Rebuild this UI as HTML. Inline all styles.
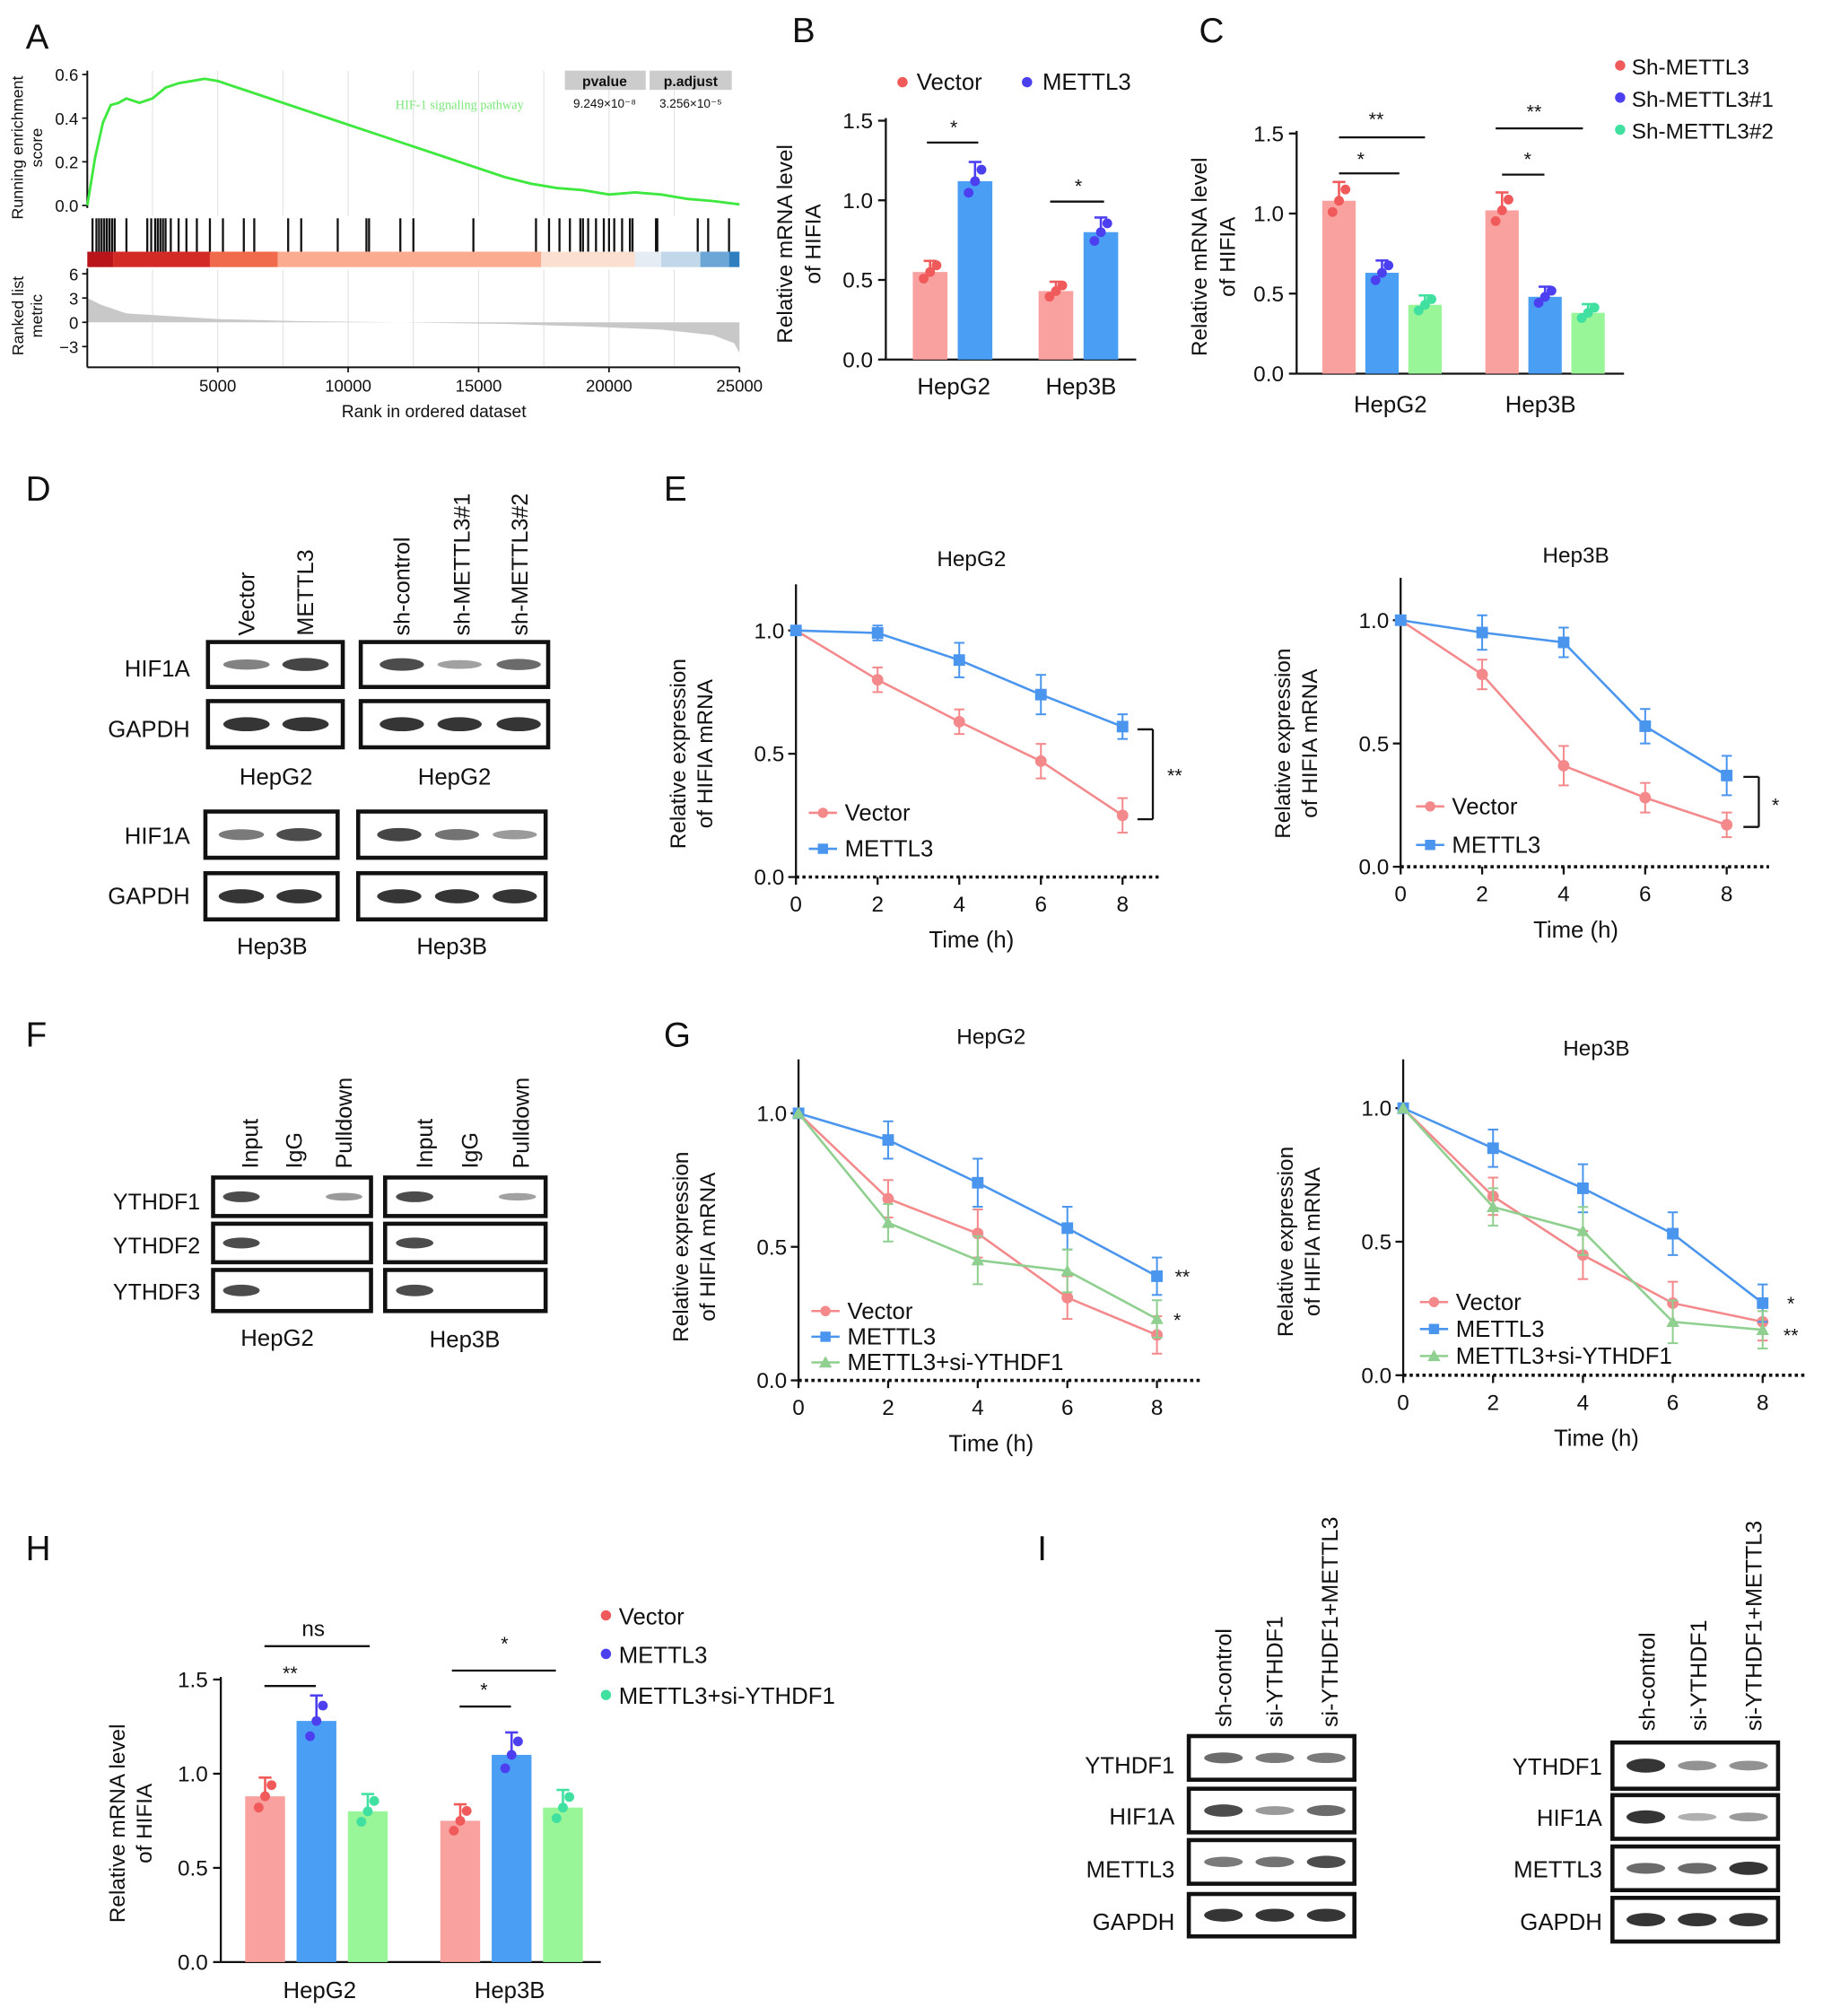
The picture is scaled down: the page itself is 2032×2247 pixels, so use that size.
<!DOCTYPE html>
<html><head><meta charset="utf-8">
<style>
html,body{margin:0;padding:0;background:#fff;}
svg{display:block;font-family:"Liberation Sans",Arial,sans-serif;}
</style></head>
<body>
<svg id="fig" width="2032" height="2247" viewBox="0 0 1420 1570" preserveAspectRatio="none" xmlns="http://www.w3.org/2000/svg"></svg>
<script>
// ---------- DATA ----------
const gseaRanks = [0,300,600,900,1200,1500,2000,2500,3000,3500,4000,4500,5000,6000,7000,8000,9000,10000,11000,12000,13000,14000,15000,16000,17000,18000,19000,20000,21000,22000,23000,24000,25000];
const gseaES = [0,0.22,0.38,0.46,0.47,0.49,0.47,0.49,0.54,0.56,0.57,0.58,0.57,0.53,0.49,0.45,0.41,0.37,0.33,0.29,0.25,0.21,0.17,0.13,0.10,0.08,0.07,0.05,0.06,0.05,0.03,0.02,0.005];
const hitRanks = [200,350,450,550,650,750,850,950,1050,1500,2300,2450,2600,2700,2800,2900,3000,3200,3500,3800,4200,4700,5200,6000,6400,7700,8200,9600,10700,10800,12000,12500,14800,17200,17700,18100,18500,18900,19000,19200,19500,19800,20000,20200,20500,20800,20900,21800,21850,23400,23800,24600];
const gseaXTicks = [5000,10000,15000,20000,25000];
const metricRanks = [0,500,1500,3000,5000,8000,12000,16000,19000,22000,24000,24800,25000];
const metricVals = [3,2.2,1.1,0.8,0.4,0.15,0,-0.2,-0.5,-0.9,-1.6,-2.6,-3.8];

const bCats = ["HepG2","Hep3B"];
const bVector = [0.55,0.43];
const bMettl3 = [1.12,0.80];
const bTicks = [0,0.5,1.0,1.5];
const cCats = ["HepG2","Hep3B"];
const cSh = [1.08,1.02];
const cSh1 = [0.63,0.48];
const cSh2 = [0.43,0.38];
const cTicks = [0,0.5,1.0,1.5];
const timeH = [0,2,4,6,8];
const eTicks = [0,0.5,1.0];
const eHepG2Vector = [1,0.80,0.63,0.47,0.25];
const eHepG2Vec_err = [0,0.05,0.05,0.07,0.07];
const eHepG2Mettl3 = [1,0.99,0.88,0.74,0.61];
const eHepG2Met_err = [0,0.03,0.07,0.08,0.05];
const eHep3BVector = [1,0.78,0.41,0.28,0.17];
const eHep3BVec_err = [0,0.06,0.08,0.06,0.05];
const eHep3BMettl3 = [1,0.95,0.91,0.57,0.37];
const eHep3BMet_err = [0,0.07,0.06,0.07,0.08];
const gHepG2Vector = [1,0.68,0.55,0.31,0.17];
const gHepG2Mettl3 = [1,0.90,0.74,0.57,0.39];
const gHepG2Si = [1,0.59,0.45,0.41,0.23];
const gHep3BVector = [1,0.67,0.45,0.27,0.20];
const gHep3BMettl3 = [1,0.85,0.70,0.53,0.27];
const gHep3BSi = [1,0.63,0.54,0.20,0.17];
const gErr = [0,0.07,0.09,0.08,0.07];
const hCats = ["HepG2","Hep3B"];
const hVector = [0.88,0.75];
const hMettl3 = [1.28,1.10];
const hSi = [0.80,0.82];
const hTicks = [0,0.5,1.0,1.5];

// ---------- HELPERS ----------
const NS="http://www.w3.org/2000/svg";
const svg=document.getElementById('fig');
function mk(tag,attrs,name){
  const e=document.createElementNS(NS,tag);
  for(const k in attrs) e.setAttribute(k,attrs[k]);
  
  
  svg.appendChild(e);return e;
}
function txt(x,y,s,size,name,anchor,rot,extra){
  const a={x:x,y:y,'font-size':size,'text-anchor':anchor||'middle',fill:'#111'};
  if(rot) a.transform='rotate('+rot+' '+x+' '+y+')';
  if(extra) for(const k in extra) a[k]=extra[k];
  const t=mk('text',a,name);t.textContent=s;return t;
}
function line(x1,y1,x2,y2,name,w,col,extra){
  const a={x1:x1,y1:y1,x2:x2,y2:y2,stroke:col||'#111','stroke-width':w||1.6};
  if(extra) for(const k in extra) a[k]=extra[k];
  return mk('line',a,name);
}
const RED='#f8a19f',BLUE='#4a9ff5',GREEN='#98f598';
const DRED='#f05a5a',DBLUE='#4b3ff0',DGREEN='#3fe0a0';
const LRED='#f4898c',LBLUE='#4a95ee',LGREEN='#8fcf8f';

[['A',20,38],['B',617,33],['C',934,33],['D',20,390],['E',517,390],['F',20,815],['G',517,815],['H',20,1215],['I',808,1215]].forEach(p=>txt(p[1],p[2],p[0],27,'panel-label-'+p[0].toLowerCase(),'start'));

// ---------- PANEL A ----------
(function(){
  const x=r=>68+r/25000*508;
  const yES=v=>160-v/0.6*102;
  const yM=v=>251-v*6.3;
  [2500,5000,7500,10000,12500,15000,17500,20000,22500].forEach(r=>{
    line(x(r),55,x(r),168,'gsea-grid',0.8,'#e3e3e3');
    line(x(r),210,x(r),285,'gsea-grid',0.8,'#e3e3e3');
  });
  line(68,55,68,162,'gsea-es-axis',1.4);
  [0,0.2,0.4,0.6].forEach(v=>{line(64,yES(v),68,yES(v),'es-tick',1.2);txt(61,yES(v)+5,v.toFixed(1),13,'es-tick-label','end');});
  txt(18,115,'Running enrichment',12.5,'es-axis-title','middle',-90);
  txt(33,115,'score',12.5,'es-axis-title','middle',-90);
  let d='';gseaRanks.forEach((r,i)=>{d+=(i?'L':'M')+x(r)+' '+yES(gseaES[i]);});
  mk('path',{d:d,fill:'none',stroke:'#3ee83e','stroke-width':2},'es-curve');
  txt(358,85,'HIF-1 signaling pathway',10,'pathway-label','middle',0,{fill:'#7be87b','font-family':'Liberation Serif'});
  mk('rect',{x:440,y:55,width:63,height:15,fill:'#ccc'},'pvalue-header');
  mk('rect',{x:506,y:55,width:64,height:15,fill:'#ccc'},'padjust-header');
  txt(471,67,'pvalue',11,'pvalue-header-text','middle',0,{'font-weight':'bold'});
  txt(538,67,'p.adjust',11,'padjust-header-text','middle',0,{'font-weight':'bold'});
  txt(471,84,'9.249×10⁻⁸',9.5,'pvalue-value');
  txt(538,84,'3.256×10⁻⁵',9.5,'padjust-value');
  hitRanks.forEach(r=>line(x(r),170,x(r),196,'hit-tick',1.6,'#111'));
  const bands=[[0,1000,'#b81419'],[1000,4700,'#d42a25'],[4700,7300,'#f06a4c'],[7300,17400,'#fbab90'],[17400,21000,'#fbe0d2'],[21000,22000,'#e6ecf4'],[22000,23500,'#c2d7ea'],[23500,24600,'#6ba6d6'],[24600,25000,'#2f7fc0']];
  bands.forEach(b=>mk('rect',{x:x(b[0]),y:196,width:x(b[1])-x(b[0]),height:12,fill:b[2]},'rank-color-band'));
  let m='M'+x(0)+' '+yM(0);metricRanks.forEach((r,i)=>{m+='L'+x(r)+' '+yM(metricVals[i]);});m+='L'+x(25000)+' '+yM(0)+'Z';
  mk('path',{d:m,fill:'#c8c8c8'},'ranked-metric-area');
  line(68,209,68,286,'metric-axis',1.4);line(68,286,576,286,'x-axis',1.4);
  [6,3,0,-3].forEach(v=>{line(64,yM(v),68,yM(v),'metric-tick',1.2);txt(61,yM(v)+5,String(v).replace('-','−'),13,'metric-tick-label','end');});
  txt(18,246,'Ranked list',12.5,'metric-axis-title','middle',-90);
  txt(33,246,'metric',12.5,'metric-axis-title','middle',-90);
  gseaXTicks.forEach(r=>{line(x(r),286,x(r),290,'x-tick',1.2);txt(x(r),305,String(r),13,'x-tick-label');});
  txt(338,325,'Rank in ordered dataset',13.5,'x-axis-title');
})();

function barChart(o){
  const y=v=>o.y0-v*o.unit;
  line(o.ax,o.y0,o.ax,y(o.ticks[o.ticks.length-1])-2,o.p+'-y-axis',1.6);
  line(o.ax,o.y0,o.axEnd,o.y0,o.p+'-x-axis',1.6);
  o.ticks.forEach(v=>{line(o.ax-6,y(v),o.ax,y(v),o.p+'-y-tick',1.6);txt(o.ax-10,y(v)+6,v.toFixed(1),o.fs||17,o.p+'-y-tick-label','end');});
  o.series.forEach((s,si)=>{
    s.vals.forEach((v,ci)=>{
      const bx=o.groupX[ci]+si*o.step;
      mk('rect',{x:bx,y:y(v),width:o.bw,height:o.y0-y(v),fill:s.col},o.p+'-bar-'+o.cats[ci].toLowerCase()+'-'+si);
      const cx=bx+o.bw/2;
      const sd=v*0.09+0.02;
      line(cx,y(v+sd),cx,y(v),o.p+'-error-bar',1.8,s.dot);
      line(cx-5,y(v+sd),cx+5,y(v+sd),o.p+'-error-cap',1.8,s.dot);
      [-5,0,5].forEach((dx,k)=>mk('circle',{cx:cx+dx,cy:y(v+(k-1)*sd*0.6),r:3.8,fill:s.dot},o.p+'-data-point'));
    });
  });
  o.cats.forEach((c,ci)=>txt(o.labelX[ci],o.labY,c,o.lfs||18,o.p+'-category-label'));
}

// ---------- PANEL B ----------
barChart({p:'b',ax:690,axEnd:885,y0:280,unit:124,ticks:bTicks,cats:bCats,groupX:[711,809],step:35,bw:27,labelX:[743,842],labY:307,
  series:[{vals:bVector,col:RED,dot:DRED},{vals:bMettl3,col:BLUE,dot:DBLUE}]});
txt(617,190,'Relative mRNA level',17,'b-y-axis-title','middle',-90);
txt(639,190,'of HIFIA',17,'b-y-axis-title','middle',-90);
mk('circle',{cx:703,cy:64,r:4,fill:DRED},'b-legend-vector-marker');txt(714,70,'Vector',18,'b-legend-vector','start');
mk('circle',{cx:800,cy:64,r:4,fill:DBLUE},'b-legend-mettl3-marker');txt(812,70,'METTL3',18,'b-legend-mettl3','start');
line(722,111,762,111,'b-sig-line',1.6);txt(743,104,'*',15,'b-sig-star');
line(818,157,860,157,'b-sig-line',1.6);txt(840,150,'*',15,'b-sig-star');

// ---------- PANEL C ----------
barChart({p:'c',ax:1010,axEnd:1265,y0:291,unit:124.7,ticks:cTicks,cats:cCats,groupX:[1030,1157],step:33.5,bw:26,labelX:[1083,1200],labY:321,
  series:[{vals:cSh,col:RED,dot:DRED},{vals:cSh1,col:BLUE,dot:DBLUE},{vals:cSh2,col:GREEN,dot:DGREEN}]});
txt(940,200,'Relative mRNA level',17,'c-y-axis-title','middle',-90);
txt(962,200,'of HIFIA',17,'c-y-axis-title','middle',-90);
[['Sh-METTL3',DRED,57],['Sh-METTL3#1',DBLUE,82],['Sh-METTL3#2',DGREEN,107]].forEach(l=>{
  mk('circle',{cx:1262,cy:l[2]-6,r:4,fill:l[1]},'c-legend-marker');txt(1271,l[2]+1,l[0],17,'c-legend-entry','start');});
line(1043,107,1110,107,'c-sig-line',1.6);txt(1072,98,'**',15,'c-sig-star');
line(1043,135,1090,135,'c-sig-line',1.6);txt(1060,129,'*',15,'c-sig-star');
line(1165,100,1233,100,'c-sig-line',1.6);txt(1195,92,'**',15,'c-sig-star');
line(1170,136,1203,136,'c-sig-line',1.6);txt(1190,129,'*',15,'c-sig-star');

// ---------- BLOTS ----------
function blot(x,y,w,h,ints,name,lanes){
  mk('rect',{x:x,y:y,width:w,height:h,fill:'#fff',stroke:'#111','stroke-width':3.2},name+'-box');
  const n=ints.length;const lw=(w-10)/n;
  ints.forEach((v,i)=>{
    if(v<=0)return;
    const cx=x+5+lw*(i+0.5);
    const lx=lanes?lanes[i]:cx;
    mk('ellipse',{cx:lx,cy:y+h/2,rx:lw*0.38,ry:Math.max(2.5,h*0.13*(0.6+v*0.6)),fill:'#222','fill-opacity':0.25+0.7*v},name+'-band');
  });
}
txt(148,527,'HIF1A',18,'d-label-hif1a','end');txt(148,574,'GAPDH',18,'d-label-gapdh','end');
txt(148,657,'HIF1A',18,'d-label-hif1a-2','end');txt(148,704,'GAPDH',18,'d-label-gapdh-2','end');
blot(162,500,105,35,[0.45,0.85],'d-hepg2-hif1a',[192,238]);
blot(162,546,105,36,[0.95,0.95],'d-hepg2-gapdh',[192,238]);
blot(281,500,146,35,[0.8,0.25,0.6],'d-hepg2-sh-hif1a',[313,358,404]);
blot(281,546,146,36,[0.95,0.95,0.95],'d-hepg2-sh-gapdh',[313,358,404]);
blot(160,632,103,36,[0.5,0.8],'d-hep3b-hif1a',[188,233]);
blot(160,680,103,36,[0.95,0.95],'d-hep3b-gapdh',[188,233]);
blot(279,632,146,36,[0.85,0.55,0.3],'d-hep3b-sh-hif1a',[311,356,401]);
blot(279,680,146,36,[0.95,0.95,0.95],'d-hep3b-sh-gapdh',[311,356,401]);
[['Vector',198],['METTL3',244],['sh-control',319],['sh-METTL3#1',366],['sh-METTL3#2',411]].forEach(c=>txt(c[1],495,c[0],17.5,'d-lane-label','start',-90));
txt(215,611,'HepG2',18,'d-cell-label');txt(354,611,'HepG2',18,'d-cell-label');
txt(212,743,'Hep3B',18,'d-cell-label');txt(352,743,'Hep3B',18,'d-cell-label');

[['YTHDF1',942],['YTHDF2',976],['YTHDF3',1012]].forEach(l=>txt(156,l[1],l[0],17.5,'f-row-label','end'));
blot(166,917,123,30,[0.8,0,0.3],'f-hepg2-ythdf1',[188,228,268]);
blot(166,953,123,30,[0.8,0,0],'f-hepg2-ythdf2',[188,228,268]);
blot(166,989,123,32,[0.8,0,0],'f-hepg2-ythdf3',[188,228,268]);
blot(300,917,125,30,[0.8,0,0.25],'f-hep3b-ythdf1',[323,363,403]);
blot(300,953,125,30,[0.8,0,0],'f-hep3b-ythdf2',[323,363,403]);
blot(300,989,125,32,[0.8,0,0],'f-hep3b-ythdf3',[323,363,403]);
[['Input',201],['IgG',235],['Pulldown',274],['Input',337],['IgG',372],['Pulldown',412]].forEach(c=>txt(c[1],910,c[0],17.5,'f-lane-label','start',-90));
txt(216,1048,'HepG2',18,'f-cell-label');txt(362,1049,'Hep3B',18,'f-cell-label');

[['YTHDF1',1381],['HIF1A',1421],['METTL3',1462],['GAPDH',1503]].forEach(l=>txt(915,l[1],l[0],18,'i-left-row-label','end'));
blot(926,1352,129,34,[0.6,0.5,0.5],'i-left-ythdf1',[953,993,1033]);
blot(926,1393,129,34,[0.8,0.3,0.6],'i-left-hif1a',[953,993,1033]);
blot(926,1433,129,34,[0.5,0.55,0.8],'i-left-mettl3',[953,993,1033]);
blot(926,1475,129,33,[0.95,0.95,0.95],'i-left-gapdh',[953,993,1033]);
[['YTHDF1',1382],['HIF1A',1422],['METTL3',1462],['GAPDH',1503]].forEach(l=>txt(1248,l[1],l[0],18,'i-right-row-label','end'));
blot(1256,1357,129,36,[0.95,0.35,0.35],'i-right-ythdf1',[1282,1322,1362]);
blot(1256,1398,129,34,[0.95,0.15,0.3],'i-right-hif1a',[1282,1322,1362]);
blot(1256,1438,129,34,[0.6,0.6,0.95],'i-right-mettl3',[1282,1322,1362]);
blot(1256,1478,129,34,[0.95,0.95,0.95],'i-right-gapdh',[1282,1322,1362]);
[['sh-control',959],['si-YTHDF1',999],['si-YTHDF1+METTL3',1042]].forEach(c=>txt(c[1],1345,c[0],17.5,'i-lane-label','start',-90));
[['sh-control',1289],['si-YTHDF1',1329],['si-YTHDF1+METTL3',1372]].forEach(c=>txt(c[1],1348,c[0],17.5,'i-lane-label','start',-90));

function lineChart(o){
  const x=t=>o.x0+t*o.ux;
  const y=v=>o.y0-v*o.uy;
  line(o.x0,o.y0,o.x0,o.yTop,o.p+'-y-axis',1.6);
  line(o.x0,o.y0,o.xEnd,o.y0,o.p+'-x-axis',2.5,'#111',{'stroke-dasharray':'2.5 2.5'});
  eTicks.forEach(v=>{line(o.x0-6,y(v),o.x0,y(v),o.p+'-y-tick',1.6);txt(o.x0-9,y(v)+6,v.toFixed(1),17,o.p+'-y-tick-label','end');});
  timeH.forEach(t=>{line(x(t),o.y0,x(t),o.y0+6,o.p+'-x-tick',1.6);txt(x(t),o.y0+27,String(t),17,o.p+'-x-tick-label');});
  txt(x(4.3),o.y0+55,'Time (h)',18,o.p+'-x-axis-title');
  txt(o.x0+o.ux*4.3,o.titleY,o.title,17,o.p+'-title');
  txt(o.x0-86,y(0.5),'Relative expression',17,o.p+'-y-axis-title','middle',-90);
  txt(o.x0-65,y(0.5),'of HIFIA mRNA',17,o.p+'-y-axis-title','middle',-90);
  o.series.forEach(s=>{
    let d='';s.vals.forEach((v,i)=>{d+=(i?'L':'M')+x(timeH[i])+' '+y(v);});
    mk('path',{d:d,fill:'none',stroke:s.col,'stroke-width':1.8},o.p+'-line-'+s.key);
    s.vals.forEach((v,i)=>{
      const e=s.err[i];const cx=x(timeH[i]);
      if(e>0){line(cx,y(v+e),cx,y(v-e),o.p+'-error-bar',1.4,s.col);
        line(cx-4,y(v+e),cx+4,y(v+e),o.p+'-error-cap',1.4,s.col);line(cx-4,y(v-e),cx+4,y(v-e),o.p+'-error-cap',1.4,s.col);}
      if(s.m==='c') mk('circle',{cx:cx,cy:y(v),r:4.5,fill:s.col},o.p+'-point-'+s.key);
      else if(s.m==='s') mk('rect',{x:cx-4.5,y:y(v)-4.5,width:9,height:9,fill:s.col},o.p+'-point-'+s.key);
      else mk('path',{d:'M'+cx+' '+(y(v)-5)+'L'+(cx+5)+' '+(y(v)+4)+'L'+(cx-5)+' '+(y(v)+4)+'Z',fill:s.col},o.p+'-point-'+s.key);
    });
  });
  o.legend.forEach((l,i)=>{
    const ly=o.legY+i*o.legStep;
    line(o.legX,ly,o.legX+22,ly,o.p+'-legend-line',1.8,l[1]);
    if(l[2]==='c') mk('circle',{cx:o.legX+11,cy:ly,r:4,fill:l[1]},o.p+'-legend-marker');
    else if(l[2]==='s') mk('rect',{x:o.legX+7,y:ly-4,width:8,height:8,fill:l[1]},o.p+'-legend-marker');
    else mk('path',{d:'M'+(o.legX+11)+' '+(ly-5)+'L'+(o.legX+16)+' '+(ly+4)+'L'+(o.legX+6)+' '+(ly+4)+'Z',fill:l[1]},o.p+'-legend-marker');
    txt(o.legX+28,ly+6,l[0],18,o.p+'-legend-entry','start');
  });
}
lineChart({p:'e-hepg2',x0:620,ux:31.8,y0:683,uy:192,yTop:455,xEnd:905,titleY:441,title:'HepG2',legX:630,legY:633,legStep:28,
  series:[{key:'vector',vals:eHepG2Vector,err:eHepG2Vec_err,col:LRED,m:'c'},{key:'mettl3',vals:eHepG2Mettl3,err:eHepG2Met_err,col:LBLUE,m:'s'}],
  legend:[['Vector',LRED,'c'],['METTL3',LBLUE,'s']]});
line(886,568,898,568,'e-bracket',1.6);line(898,568,898,638,'e-bracket',1.6);line(886,638,898,638,'e-bracket',1.6);
txt(915,609,'**',15,'e-hepg2-sig');
lineChart({p:'e-hep3b',x0:1091,ux:31.75,y0:675,uy:192,yTop:450,xEnd:1378,titleY:438,title:'Hep3B',legX:1103,legY:628,legStep:30,
  series:[{key:'vector',vals:eHep3BVector,err:eHep3BVec_err,col:LRED,m:'c'},{key:'mettl3',vals:eHep3BMettl3,err:eHep3BMet_err,col:LBLUE,m:'s'}],
  legend:[['Vector',LRED,'c'],['METTL3',LBLUE,'s']]});
line(1358,605,1370,605,'e-bracket',1.6);line(1370,605,1370,644,'e-bracket',1.6);line(1358,644,1370,644,'e-bracket',1.6);
txt(1383,632,'*',15,'e-hep3b-sig');

lineChart({p:'g-hepg2',x0:622,ux:34.9,y0:1075,uy:208,yTop:825,xEnd:937,titleY:813,title:'HepG2',legX:632,legY:1021,legStep:20,
  series:[{key:'vector',vals:gHepG2Vector,err:gErr,col:LRED,m:'c'},{key:'mettl3',vals:gHepG2Mettl3,err:gErr,col:LBLUE,m:'s'},{key:'si',vals:gHepG2Si,err:gErr,col:LGREEN,m:'t'}],
  legend:[['Vector',LRED,'c'],['METTL3',LBLUE,'s'],['METTL3+si-YTHDF1',LGREEN,'t']]});
txt(921,999,'**',15,'g-hepg2-sig');txt(917,1033,'*',15,'g-hepg2-sig');
lineChart({p:'g-hep3b',x0:1093,ux:35,y0:1071,uy:208,yTop:825,xEnd:1408,titleY:822,title:'Hep3B',legX:1106,legY:1014,legStep:21,
  series:[{key:'vector',vals:gHep3BVector,err:gErr,col:LRED,m:'c'},{key:'mettl3',vals:gHep3BMettl3,err:gErr,col:LBLUE,m:'s'},{key:'si',vals:gHep3BSi,err:gErr,col:LGREEN,m:'t'}],
  legend:[['Vector',LRED,'c'],['METTL3',LBLUE,'s'],['METTL3+si-YTHDF1',LGREEN,'t']]});
txt(1395,1020,'*',15,'g-hep3b-sig');txt(1395,1045,'**',15,'g-hep3b-sig');

barChart({p:'h',ax:172,axEnd:468,y0:1528,unit:146.7,ticks:hTicks,cats:hCats,groupX:[191,343],step:40,bw:31,labelX:[249,397],labY:1556,
  series:[{vals:hVector,col:RED,dot:DRED},{vals:hMettl3,col:BLUE,dot:DBLUE},{vals:hSi,col:GREEN,dot:DGREEN}]});
txt(97,1420,'Relative mRNA level',17,'h-y-axis-title','middle',-90);
txt(118,1420,'of HIFIA',17,'h-y-axis-title','middle',-90);
[['Vector',DRED,1264],['METTL3',DBLUE,1294],['METTL3+si-YTHDF1',DGREEN,1326]].forEach(l=>{
  mk('circle',{cx:472,cy:l[2]-6,r:4,fill:l[1]},'h-legend-marker');txt(482,l[2]+1,l[0],18,'h-legend-entry','start');});
line(206,1282,288,1282,'h-sig-line',1.6);txt(244,1274,'ns',17,'h-sig-ns');
line(206,1313,246,1313,'h-sig-line',1.6);txt(226,1308,'**',15,'h-sig-star');
line(352,1301,433,1301,'h-sig-line',1.6);txt(393,1285,'*',15,'h-sig-star');
line(358,1329,398,1329,'h-sig-line',1.6);txt(377,1321,'*',15,'h-sig-star');
</script>
</body></html>
